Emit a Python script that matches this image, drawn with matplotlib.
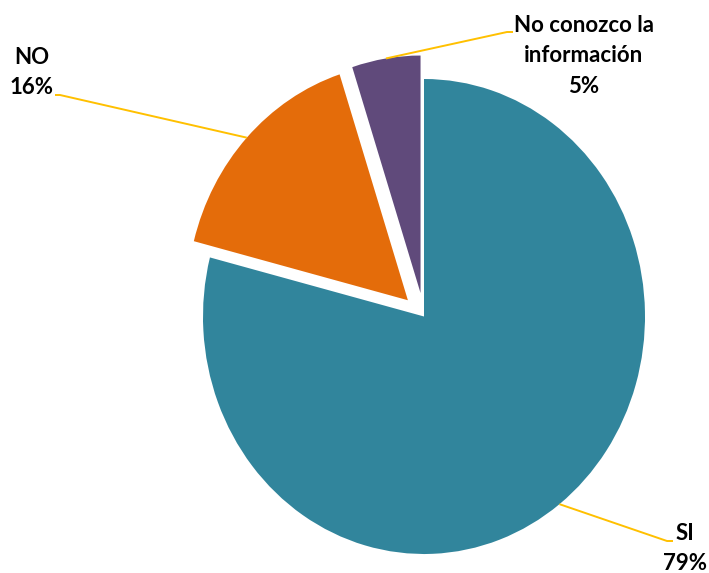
import numpy as np
import matplotlib
matplotlib.use('Agg')
import matplotlib.pyplot as plt

# ---- data ----
categories = ['SI', 'NO', 'No conozco la\ninformación']
values = [79, 16, 5]
pct_labels = ['79%', '16%', '5%']
colors = ['#31859C', '#E46C0A', '#604A7B']
explode = [0, 0.1, 0.1]

W, H = 709, 573
fig = plt.figure(figsize=(W / 100, H / 100), dpi=100)
ax = fig.add_axes([0, 0, 1, 1])

# pixel geometry of the (slightly elliptical) pie
cx, cy = 424, 316.5
rx, ry = 221, 237.5
xlim = (-cx / rx, (W - cx) / rx)
ylim = (-(H - cy) / ry, cy / ry)


def px(x, y):
    """pixel (from top-left) -> data coords"""
    return ((x - cx) / rx, (cy - y) / ry)


wedges, _ = ax.pie(values, colors=colors, explode=explode, startangle=90,
                   counterclock=False, wedgeprops=dict(linewidth=0))
ax.set_aspect('auto')
ax.set_xlim(xlim)
ax.set_ylim(ylim)
ax.axis('off')

font = dict(family=['Lato', 'DejaVu Sans'], fontsize=16,
            fontweight='bold', color='black')
line_color = '#FFC000'

# label layout (pixels): elbow point, end point, text x center, first baseline
layout = [
    dict(elbow=(667, 541), end=(673, 541), tx=685, base=540),
    dict(elbow=(60, 95), end=(55, 95), tx=32, base=64),
    dict(elbow=(507, 32), end=(513, 32), tx=584, base=32),
]

for w, cat, pct, lay in zip(wedges, categories, pct_labels, layout):
    mid = np.deg2rad((w.theta1 + w.theta2) / 2)
    c = w.center
    anchor = (c[0] + w.r * np.cos(mid), c[1] + w.r * np.sin(mid))
    e = px(*lay['elbow'])
    en = px(*lay['end'])
    ax.plot([anchor[0], e[0], en[0]], [anchor[1], e[1], en[1]],
            color=line_color, lw=1.4, solid_capstyle='butt', zorder=3)
    lines = cat.split('\n') + [pct]
    for i, s in enumerate(lines):
        tpos = px(lay['tx'], lay['base'] + i * 30.5)
        ax.text(tpos[0], tpos[1], s, ha='center', va='baseline', **font)

fig.savefig('out.png', dpi=100)
